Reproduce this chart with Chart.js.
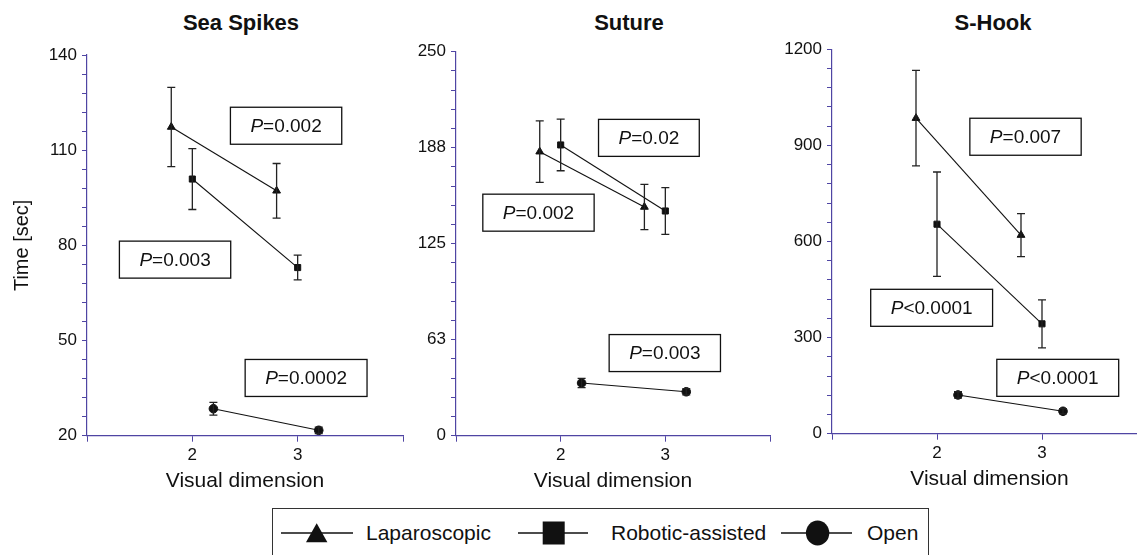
<!DOCTYPE html>
<html>
<head>
<meta charset="utf-8">
<script src="https://cdn.jsdelivr.net/npm/chart.js@4.4.1/dist/chart.umd.min.js"></script>
<style>
  body { margin: 0; background: #fff; overflow: hidden; width: 1137px; height: 555px; position: relative;
         font-family: "Liberation Sans", Arial, Helvetica, sans-serif; color: #111; }
  canvas { position: absolute; top: 0; }
  .ttl { position: absolute; top: 12px; width: 200px; text-align: center; font-weight: bold; font-size: 22px; line-height: 22px; }
  #legend { position: absolute; left: 272px; top: 508px; width: 657px; height: 70px; border: 1px solid #333; box-sizing: border-box; }
  #legend .lg { position: absolute; top: 13px; font-size: 21px; line-height: 21px; white-space: nowrap; }
  #legend svg { position: absolute; top: 10.7px; }
</style>
</head>
<body>
<div class="ttl" style="left:141px">Sea Spikes</div>
<div class="ttl" style="left:529px">Suture</div>
<div class="ttl" style="left:893px">S-Hook</div>

<canvas id="sea" width="410" height="500" style="left:0px"></canvas>
<canvas id="suture" width="381" height="500" style="left:396px"></canvas>
<canvas id="hook" width="382" height="500" style="left:772px"></canvas>

<div id="legend">
  <svg width="72" height="26" style="left:8px"><line x1="0" y1="13" x2="72" y2="13" stroke="#111" stroke-width="1.3"/><polygon points="35.7,3.3 25,22.3 46.4,22.3" fill="#111"/></svg>
  <span class="lg" style="left:93px">Laparoscopic</span>
  <svg width="72" height="26" style="left:245px"><line x1="0" y1="13" x2="70" y2="13" stroke="#111" stroke-width="1.3"/><rect x="24.7" y="1.5" width="22" height="23" fill="#111"/></svg>
  <span class="lg" style="left:338px">Robotic-assisted</span>
  <svg width="72" height="26" style="left:508px"><line x1="0" y1="13" x2="71" y2="13" stroke="#111" stroke-width="1.3"/><ellipse cx="36.6" cy="13" rx="11.7" ry="12.5" fill="#111"/></svg>
  <span class="lg" style="left:594px">Open</span>
</div>

<script>
// x positions of each group (visual dimension 2 and 3, groups side by side)
var dims = [2, 3];
var lapX = [1.8, 2.8];
var robX = [2, 3];
var openX = [2.2, 3.2];

// Sea Spikes (sec)
var seaLap = [117.3, 97.2];
var seaLapErr = [12.5, 8.6];
var seaRob = [100.9, 73.0];
var seaRobErr = [9.6, 3.9];
var seaOpen = [28.5, 21.7];
var seaOpenErr = [2.0, 1.0];

// Suture (sec)
var sutLap = [184.9, 148.9];
var sutLapErr = [20.0, 14.7];
var sutRob = [189.3, 146.3];
var sutRobErr = [16.8, 15.2];
var sutOpen = [34.3, 28.6];
var sutOpenErr = [3.0, 2.0];

// S-Hook (sec)
var hookLap = [985, 620];
var hookLapErr = [149, 67];
var hookRob = [654, 343];
var hookRobErr = [163, 75];
var hookOpen = [121, 70];
var hookOpenErr = [10, 8];

// P-value notes: [x, y, text]
var seaNotes = [[2.89, 117.7, '=0.002'], [1.836, 75.5, '=0.003'], [3.08, 38.2, '=0.0002']];
var sutNotes = [[2.843, 193.9, '=0.02'], [1.788, 145.2, '=0.002'], [2.995, 53.8, '=0.003']];
var hookNotes = [[2.843, 927, '=0.007'], [1.949, 393, '<0.0001'], [3.15, 174.4, '<0.0001']];

var fam = '"Liberation Sans", Arial, Helvetica, sans-serif';
var ink = '#111';
var axisCol = '#4f45a3';

function series(xs, ys, errs, style, r) {
    return {
        data: xs.map(function(x, i) { return {x: x, y: ys[i]}; }),
        errs: errs,
        showLine: true,
        borderColor: ink,
        borderWidth: 1.1,
        backgroundColor: ink,
        pointBackgroundColor: ink,
        pointBorderColor: ink,
        pointBorderWidth: 1,
        pointStyle: style,
        pointRadius: r
    };
}

// error bars drawn from the dataset values through the y scale
var errorBars = {
    id: 'errorBars',
    afterDatasetsDraw: function(chart) {
        var ctx = chart.ctx, ys = chart.scales.y;
        ctx.save();
        ctx.strokeStyle = '#222';
        ctx.lineWidth = 1.3;
        chart.data.datasets.forEach(function(ds, di) {
            chart.getDatasetMeta(di).data.forEach(function(pt, i) {
                var v = ds.data[i].y, e = ds.errs[i];
                var t = ys.getPixelForValue(v + e), b = ys.getPixelForValue(v - e);
                ctx.beginPath();
                ctx.moveTo(pt.x, t); ctx.lineTo(pt.x, b);
                ctx.moveTo(pt.x - 4, t); ctx.lineTo(pt.x + 4, t);
                ctx.moveTo(pt.x - 4, b); ctx.lineTo(pt.x + 4, b);
                ctx.stroke();
            });
        });
        ctx.restore();
    }
};

function noteBoxes(notes) {
    return {
        id: 'noteBoxes',
        afterDatasetsDraw: function(chart) {
            var ctx = chart.ctx, xs = chart.scales.x, ys = chart.scales.y;
            ctx.save();
            notes.forEach(function(n) {
                var cx = xs.getPixelForValue(n[0]), cy = ys.getPixelForValue(n[1]);
                ctx.font = 'italic 19px ' + fam;
                var wP = ctx.measureText('P').width;
                ctx.font = '19px ' + fam;
                var wT = ctx.measureText(n[2]).width;
                var w = wP + wT + 40, h = 37;
                ctx.fillStyle = '#fff';
                ctx.fillRect(cx - w / 2, cy - h / 2, w, h);
                ctx.strokeStyle = ink;
                ctx.lineWidth = 1.3;
                ctx.strokeRect(cx - w / 2, cy - h / 2, w, h);
                ctx.fillStyle = ink;
                ctx.textBaseline = 'middle';
                ctx.textAlign = 'left';
                var x0 = cx - (wP + wT) / 2;
                ctx.font = 'italic 19px ' + fam;
                ctx.fillText('P', x0, cy + 1);
                ctx.font = '19px ' + fam;
                ctx.fillText(n[2], x0 + wP, cy + 1);
            });
            ctx.restore();
        }
    };
}

function makePanel(id, p) {
    var yOpts = {
        min: p.yMin, max: p.yMax,
        afterFit: function(s) { s.width = p.yWidth; },
        border: {color: axisCol, width: 1.2},
        grid: {drawOnChartArea: false, color: axisCol, tickLength: 5},
        ticks: {
            stepSize: p.yStep, autoSkip: false, padding: 5, color: ink,
            font: {size: 17, family: fam},
            callback: function(v) {
                return ((v - p.yMin) % p.yMajor === 0) ? String(Math.round(v)) : '';
            }
        },
        title: {display: !!p.yTitle, text: p.yTitle || '', color: ink,
                font: {size: 20, family: fam}, padding: {top: 10, bottom: 0}}
    };
    return new Chart(document.getElementById(id), {
        type: 'scatter',
        data: {datasets: p.datasets},
        options: {
            responsive: false,
            animation: false,
            layout: {padding: {top: p.top, bottom: p.bottom, left: 0, right: 7}},
            plugins: {legend: {display: false}, tooltip: {enabled: false}},
            scales: {
                x: {
                    type: 'linear', min: 1, max: 4,
                    afterFit: function(s) { s.height = 60; },
                    border: {color: axisCol, width: 1.2},
                    grid: {drawOnChartArea: false, color: axisCol, tickLength: 6},
                    ticks: {
                        stepSize: 1, autoSkip: false, padding: 3, color: ink, maxRotation: 0,
                        font: {size: 17, family: fam},
                        callback: function(v) { return dims.indexOf(v) >= 0 ? String(v) : ''; }
                    },
                    title: {display: true, text: 'Visual dimension', color: ink,
                            font: {size: 21, family: fam}, padding: {top: 0, bottom: 2}}
                },
                y: yOpts
            }
        },
        plugins: [errorBars, noteBoxes(p.notes)]
    });
}

makePanel('sea', {
    yMin: 20, yMax: 140, yStep: 6, yMajor: 30, yWidth: 87, yTitle: 'Time [sec]',
    top: 55, bottom: 4.3, notes: seaNotes,
    datasets: [
        series(lapX, seaLap, seaLapErr, 'triangle', 4.5),
        series(robX, seaRob, seaRobErr, 'rect', 4.3),
        series(openX, seaOpen, seaOpenErr, 'circle', 4.3)
    ]
});

makePanel('suture', {
    yMin: 0, yMax: 250, yStep: 12.5, yMajor: 62.5, yWidth: 60,
    top: 51.7, bottom: 4.3, notes: sutNotes,
    datasets: [
        series(lapX, sutLap, sutLapErr, 'triangle', 4.5),
        series(robX, sutRob, sutRobErr, 'rect', 4.3),
        series(openX, sutOpen, sutOpenErr, 'circle', 4.3)
    ]
});

makePanel('hook', {
    yMin: 0, yMax: 1200, yStep: 60, yMajor: 300, yWidth: 60,
    top: 49.3, bottom: 6.3, notes: hookNotes,
    datasets: [
        series(lapX, hookLap, hookLapErr, 'triangle', 4.5),
        series(robX, hookRob, hookRobErr, 'rect', 4.3),
        series(openX, hookOpen, hookOpenErr, 'circle', 4.3)
    ]
});
</script>
</body>
</html>
